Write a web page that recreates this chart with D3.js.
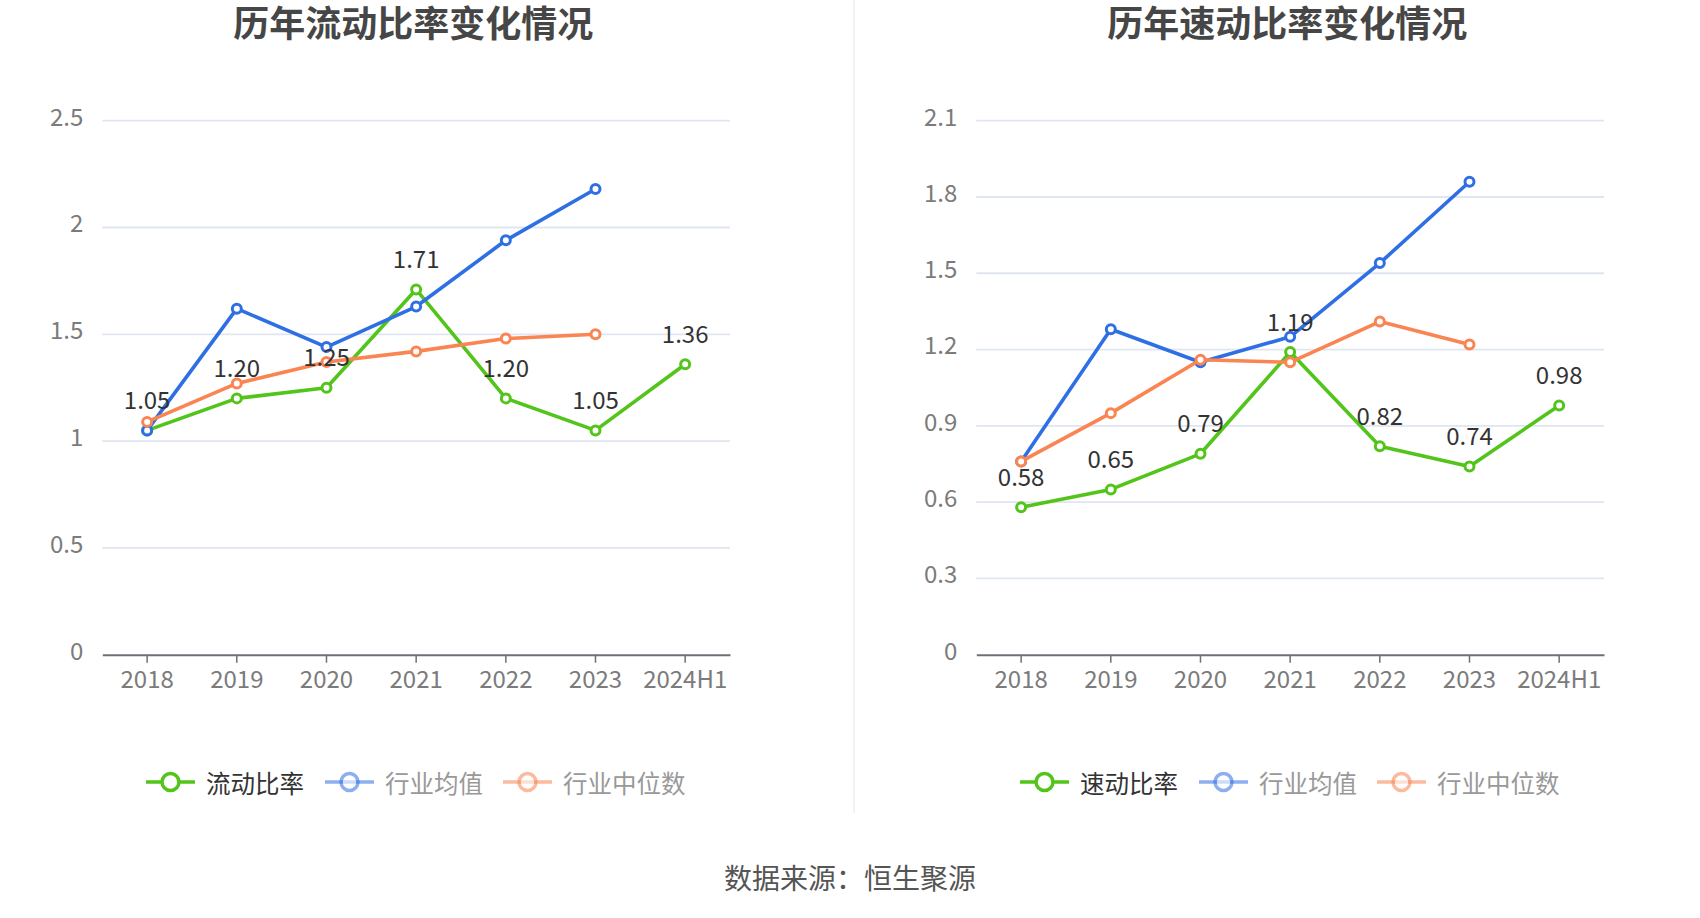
<!DOCTYPE html>
<html>
<head>
<meta charset="utf-8">
<script src="https://cdn.jsdelivr.net/npm/d3@7/dist/d3.min.js"></script>
<style>
  html, body { margin: 0; padding: 0; background: #fff; }
  svg { display: block; font-family: "Microsoft YaHei", "Noto Sans CJK SC", "Noto Sans", sans-serif; }
</style>
</head>
<body>
<svg id="chart" width="1700" height="918"></svg>
<script>
// ---------- data ----------
const categories = ["2018", "2019", "2020", "2021", "2022", "2023", "2024H1"];

const leftTitle = "历年流动比率变化情况";
const leftMain = [1.05, 1.20, 1.25, 1.71, 1.20, 1.05, 1.36];
const leftAvg = [1.05, 1.62, 1.44, 1.63, 1.94, 2.18, null];
const leftMedian = [1.09, 1.27, 1.37, 1.42, 1.48, 1.50, null];
const leftTicks = [0, 0.5, 1, 1.5, 2, 2.5];
const leftNames = ["流动比率", "行业均值", "行业中位数"];

const rightTitle = "历年速动比率变化情况";
const rightMain = [0.58, 0.65, 0.79, 1.19, 0.82, 0.74, 0.98];
const rightAvg = [0.76, 1.28, 1.15, 1.25, 1.54, 1.86, null];
const rightMedian = [0.76, 0.95, 1.16, 1.15, 1.31, 1.22, null];
const rightTicks = [0, 0.3, 0.6, 0.9, 1.2, 1.5, 1.8, 2.1];
const rightNames = ["速动比率", "行业均值", "行业中位数"];

const sourceText = "数据来源：恒生聚源";

// ---------- style ----------
const colors = ["#52c41a", "#2f6fe4", "#fa8452"];
const svg = d3.select("#chart");
const fontFam = "\"Microsoft YaHei\", \"Noto Sans CJK SC\", sans-serif";

function panel(offsetX, title, seriesList, names, ticks) {
  const g = svg.append("g").attr("transform", `translate(${offsetX},0)`);
  const left = 102.3, right = 730, top = 120.7, bottom = 654.7;

  const x = d3.scaleBand().domain(categories).range([left, right]);
  const y = d3.scaleLinear().domain([0, d3.max(ticks)]).range([bottom, top]);
  const cx = c => x(c) + x.bandwidth() / 2;

  // title
  g.append("text")
    .attr("x", (left + right) / 2 - 3)
    .attr("y", 37)
    .attr("text-anchor", "middle")
    .attr("font-size", 36)
    .attr("font-weight", "bold")
    .attr("fill", "#464646")
    .text(title);

  // grid lines
  g.append("g").selectAll("line")
    .data(ticks.filter(t => t > 0))
    .join("line")
    .attr("x1", left).attr("x2", right)
    .attr("y1", d => y(d)).attr("y2", d => y(d))
    .attr("stroke", "#dfe5f1").attr("stroke-width", 1.8);

  // y axis labels
  const yAxis = d3.axisLeft(y).tickValues(ticks).tickSize(0).tickPadding(19)
    .tickFormat(d => String(+d.toFixed(1)));
  const ya = g.append("g").attr("transform", `translate(${left},0)`).call(yAxis);
  ya.select(".domain").remove();
  ya.selectAll("text").attr("font-size", 24).attr("fill", "#7b7b7b")
    .attr("font-family", fontFam).attr("dy", "0.18em");

  // x axis
  const xAxis = d3.axisBottom(x).tickSize(8).tickSizeOuter(0).tickPadding(8);
  const xa = g.append("g").attr("transform", `translate(0,${bottom})`).call(xAxis);
  xa.select(".domain").attr("stroke", "#6e7079").attr("stroke-width", 2);
  xa.selectAll(".tick line").attr("stroke", "#6e7079").attr("stroke-width", 1.5);
  xa.selectAll("text").attr("font-size", 24).attr("fill", "#7b7b7b")
    .attr("font-family", fontFam);

  // series
  const line = d3.line()
    .defined(d => d.v !== null)
    .x(d => cx(d.c))
    .y(d => y(d.v));

  seriesList.forEach((vals, i) => {
    const pts = categories.map((c, k) => ({ c, v: vals[k] }));
    const sg = g.append("g");
    sg.append("path")
      .datum(pts)
      .attr("d", line)
      .attr("fill", "none")
      .attr("stroke", colors[i])
      .attr("stroke-width", 3.6)
      .attr("stroke-linejoin", "round");
    sg.selectAll("circle")
      .data(pts.filter(d => d.v !== null))
      .join("circle")
      .attr("cx", d => cx(d.c))
      .attr("cy", d => y(d.v))
      .attr("r", 4.5)
      .attr("fill", "#fff")
      .attr("stroke", colors[i])
      .attr("stroke-width", 3);
  });

  // labels for main series
  g.append("g").selectAll("text")
    .data(categories.map((c, k) => ({ c, v: seriesList[0][k] })))
    .join("text")
    .attr("x", d => cx(d.c))
    .attr("y", d => y(d.v) - 32)
    .attr("text-anchor", "middle")
    .attr("dominant-baseline", "central")
    .attr("font-size", 24)
    .attr("fill", "#333")
    .text(d => d.v.toFixed(2));

  // legend
  const legendY = 782;
  const itemX = [146, 325, 503];
  names.forEach((name, i) => {
    const lg = g.append("g").attr("transform", `translate(${itemX[i]},${legendY})`);
    const op = i === 0 ? 1 : 0.55;
    lg.append("line").attr("x1", 0).attr("x2", 49).attr("y1", 0).attr("y2", 0)
      .attr("stroke", colors[i]).attr("stroke-width", 3.5).attr("opacity", op);
    lg.append("circle").attr("cx", 24.5).attr("cy", 0).attr("r", 8.5)
      .attr("fill", "#fff").attr("stroke", colors[i]).attr("stroke-width", 3.5)
      .attr("opacity", op);
    lg.append("text").attr("x", 60).attr("y", 0)
      .attr("dominant-baseline", "central")
      .attr("font-size", 24.5)
      .attr("fill", i === 0 ? "#333" : "#999")
      .text(name);
  });
}

panel(0, leftTitle, [leftMain, leftAvg, leftMedian], leftNames, leftTicks);
panel(874, rightTitle, [rightMain, rightAvg, rightMedian], rightNames, rightTicks);

// divider
svg.append("line")
  .attr("x1", 854).attr("x2", 854).attr("y1", 0).attr("y2", 813)
  .attr("stroke", "#eeeeee").attr("stroke-width", 1.5);

// source
svg.append("text")
  .attr("x", 850).attr("y", 877)
  .attr("text-anchor", "middle")
  .attr("dominant-baseline", "central")
  .attr("font-size", 28)
  .attr("fill", "#555")
  .text(sourceText);
</script>
</body>
</html>
